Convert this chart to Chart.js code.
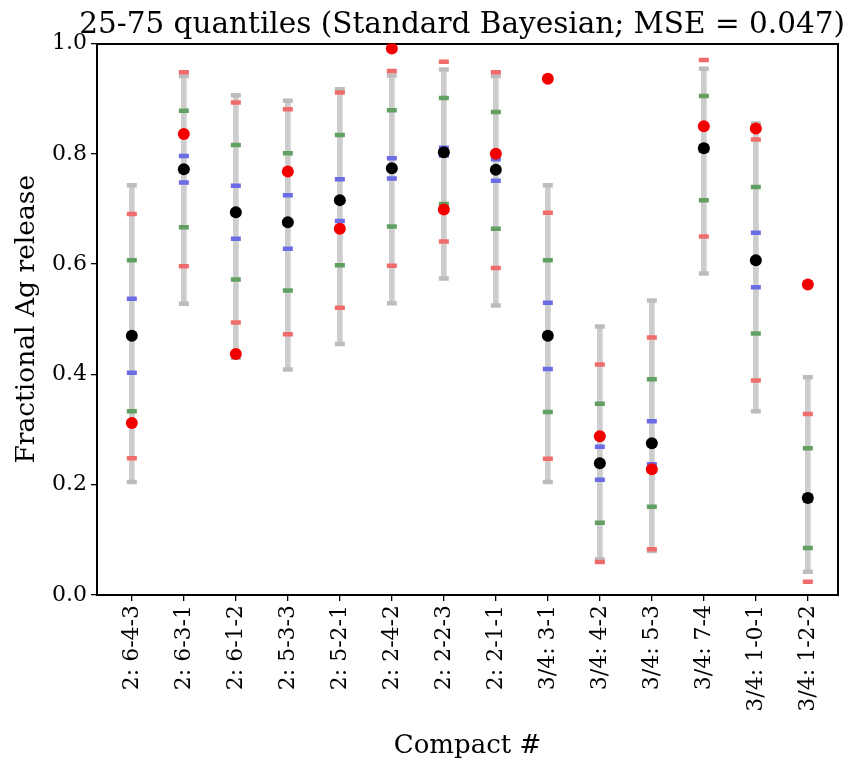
<!DOCTYPE html>
<html>
<head>
<meta charset="utf-8">
<script src="https://cdn.jsdelivr.net/npm/chart.js@4"></script>
<style>
  html, body { margin: 0; padding: 0; background: #fff; }
  #wrap { width: 858px; height: 759px; }
</style>
</head>
<body>
<div id="wrap"><canvas id="chart" width="858" height="759"></canvas></div>
<script>
const compacts = ['2: 6-4-3', '2: 6-3-1', '2: 6-1-2', '2: 5-3-3', '2: 5-2-1', '2: 2-4-2', '2: 2-2-3',
    '2: 2-1-1', '3/4: 3-1', '3/4: 4-2', '3/4: 5-3', '3/4: 7-4', '3/4: 1-0-1', '3/4: 1-2-2'];

// posterior median (black) and measured release (red dot)
const median   = [0.470, 0.772, 0.694, 0.676, 0.716, 0.774, 0.803, 0.771, 0.470, 0.239, 0.275, 0.810, 0.607, 0.176];
const observed = [0.312, 0.836, 0.437, 0.768, 0.664, 0.991, 0.699, 0.800, 0.936, 0.288, 0.228, 0.850, 0.846, 0.563];

// interval ends
const grayLo  = [0.205, 0.528, 0.430, 0.409, 0.455, 0.529, 0.574, 0.525, 0.205, 0.065, 0.080, 0.583, 0.333, 0.042];
const grayHi  = [0.743, 0.941, 0.906, 0.896, 0.917, 0.942, 0.953, 0.941, 0.743, 0.487, 0.534, 0.954, 0.855, 0.395];
const redLo   = [0.248, 0.596, 0.494, 0.473, 0.521, 0.597, 0.641, 0.593, 0.247, 0.060, 0.083, 0.650, 0.389, 0.024];
const redHi   = [0.691, 0.948, 0.893, 0.881, 0.911, 0.950, 0.967, 0.948, 0.693, 0.418, 0.467, 0.970, 0.826, 0.328];
const greenLo = [0.333, 0.667, 0.572, 0.552, 0.598, 0.668, 0.709, 0.664, 0.332, 0.131, 0.160, 0.716, 0.474, 0.085];
const greenHi = [0.607, 0.878, 0.816, 0.801, 0.834, 0.879, 0.901, 0.876, 0.607, 0.347, 0.391, 0.905, 0.740, 0.266];
const blueLo  = [0.403, 0.748, 0.646, 0.628, 0.678, 0.755, 0.797, 0.751, 0.410, 0.209, 0.237, 0.806, 0.558, 0.172];
const blueHi  = [0.537, 0.796, 0.742, 0.725, 0.754, 0.792, 0.811, 0.790, 0.530, 0.269, 0.315, 0.814, 0.657, 0.180];

const yTicks = [0, 0.2, 0.4, 0.6, 0.8, 1.0];

const FONT = "'DejaVu Serif', serif";

function pts(arr) {
    return arr.map((v, i) => ({ x: i, y: v }));
}
function pair(lo, hi) {
    return pts(lo).concat(pts(hi));
}
function tickSet(lo, hi, color, order) {
    return {
        type: 'scatter',
        data: pair(lo, hi),
        pointStyle: 'line',
        pointRadius: 5,
        pointBorderWidth: 4.5,
        pointBorderColor: color,
        pointBackgroundColor: color,
        order: order
    };
}

new Chart(document.getElementById('chart'), {
    type: 'scatter',
    data: {
        datasets: [
            {
                type: 'bar',
                data: grayLo.map((v, i) => ({ x: i, y: [v, grayHi[i]] })),
                backgroundColor: '#cdcdcd',
                barThickness: 5,
                order: 10
            },
            tickSet(grayLo, grayHi, '#bdbdbd', 9),
            tickSet(redLo, redHi, '#f06c6c', 8),
            tickSet(greenLo, greenHi, '#62a062', 7),
            tickSet(blueLo, blueHi, '#6b6be6', 6),
            {
                type: 'scatter',
                data: pts(median),
                pointRadius: 6,
                pointBorderWidth: 0,
                pointBackgroundColor: '#000000',
                order: 2
            },
            {
                type: 'scatter',
                data: pts(observed),
                pointRadius: 6,
                pointBorderWidth: 0,
                pointBackgroundColor: '#f20000',
                order: 1
            }
        ]
    },
    options: {
        responsive: false,
        animation: false,
        layout: { padding: { left: 0, right: 13, top: 0, bottom: 0 } },
        plugins: {
            legend: { display: false },
            tooltip: { enabled: false },
            title: {
                display: true,
                text: '25-75 quantiles (Standard Bayesian; MSE = 0.047)',
                align: 'end',
                color: '#000',
                font: { family: FONT, size: 29.5, weight: 'normal' },
                padding: { top: 7.5, bottom: 0.6 }
            }
        },
        scales: {
            x: {
                type: 'linear',
                min: -0.67,
                max: 13.58,
                offset: false,
                afterFit: s => { s.height = 164; },
                afterBuildTicks: s => { s.ticks = compacts.map((_, i) => ({ value: i })); },
                grid: { display: true, drawOnChartArea: false, drawTicks: true, tickLength: 6, color: '#000', lineWidth: 1.3, offset: false },
                border: { display: true, color: '#000', width: 2 },
                ticks: {
                    autoSkip: false,
                    maxRotation: 90,
                    minRotation: 90,
                    padding: 4,
                    color: '#000',
                    font: { family: FONT, size: 22 },
                    callback: v => compacts[v]
                },
                title: {
                    display: true,
                    text: 'Compact #',
                    color: '#000',
                    font: { family: FONT, size: 26 },
                    padding: { top: 5, bottom: -3 }
                }
            },
            y: {
                type: 'linear',
                min: 0,
                max: 1,
                afterFit: s => { s.width = 97; },
                afterBuildTicks: s => { s.ticks = yTicks.map(v => ({ value: v })); },
                grid: { display: true, drawOnChartArea: false, drawTicks: true, tickLength: 6, color: '#000', lineWidth: 1.3 },
                border: { display: true, color: '#000', width: 2 },
                ticks: {
                    padding: 4,
                    color: '#000',
                    font: { family: FONT, size: 22 },
                    callback: v => v.toFixed(1)
                },
                title: {
                    display: true,
                    text: 'Fractional Ag release',
                    color: '#000',
                    font: { family: FONT, size: 26.5 },
                    padding: { top: 11, bottom: 0 }
                }
            },
            x2: {
                type: 'linear',
                position: 'top',
                afterFit: s => { s.height = 0; },
                grid: { display: false },
                ticks: { display: false },
                border: { display: true, color: '#000', width: 2 }
            },
            y2: {
                type: 'linear',
                position: 'right',
                afterFit: s => { s.width = 7; },
                grid: { display: false },
                ticks: { display: false },
                border: { display: true, color: '#000', width: 2 }
            }
        }
    }
});
</script>
</body>
</html>
